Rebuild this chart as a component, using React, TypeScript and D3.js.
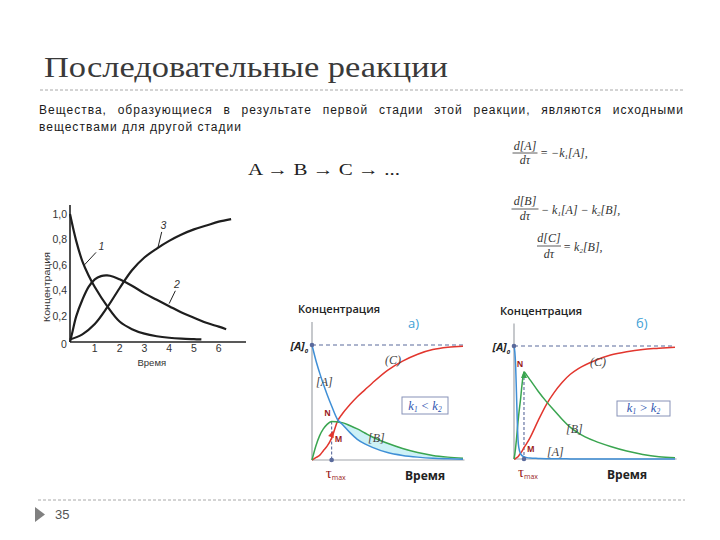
import React, { useLayoutEffect, useRef } from 'react';
import * as d3 from 'd3';

// ---------- Left chart (classic textbook figure) ----------
const leftXTicks = [1, 2, 3, 4, 5, 6];
const leftYTicks = [0.2, 0.4, 0.6, 0.8, 1.0];
const leftYTickLabels = ['0,2', '0,4', '0,6', '0,8', '1,0'];

const curve1T = [0, 0.25, 0.5, 0.75, 1, 1.5, 2, 2.5, 3, 3.5, 4, 4.5, 5, 5.3];
const curve1V = [1.0, 0.79, 0.63, 0.52, 0.43, 0.28, 0.16, 0.1, 0.065, 0.045, 0.033, 0.026, 0.022, 0.02];

const curve2T = [0, 0.1, 0.25, 0.5, 0.75, 1, 1.25, 1.5, 1.75, 2, 2.5, 3, 3.5, 4, 4.5, 5, 5.5, 6, 6.3];
const curve2V = [0, 0.08, 0.2, 0.33, 0.43, 0.49, 0.515, 0.52, 0.51, 0.49, 0.44, 0.38, 0.33, 0.28, 0.23, 0.19, 0.15, 0.12, 0.1];

const curve3T = [0, 0.5, 1, 1.5, 2, 2.5, 3, 3.5, 4, 4.5, 5, 5.5, 6, 6.5];
const curve3V = [0.02, 0.06, 0.14, 0.27, 0.42, 0.56, 0.66, 0.73, 0.79, 0.84, 0.88, 0.91, 0.94, 0.96];

// ---------- Panel а) k1 < k2 ----------
const aT = [0, 0.25, 0.5, 0.75, 1, 1.3, 1.7, 2, 2.5, 3, 3.5, 4, 5, 6, 7, 8, 9, 10];
const aA = [1, 0.87, 0.76, 0.66, 0.57, 0.47, 0.35, 0.31, 0.24, 0.18, 0.14, 0.11, 0.065, 0.04, 0.025, 0.015, 0.01, 0.006];
const aB = [0, 0.12, 0.21, 0.27, 0.31, 0.335, 0.33, 0.325, 0.3, 0.27, 0.235, 0.2, 0.145, 0.1, 0.065, 0.04, 0.025, 0.015];
const aC = [0, 0.02, 0.04, 0.08, 0.12, 0.19, 0.34, 0.4, 0.48, 0.55, 0.61, 0.67, 0.78, 0.86, 0.92, 0.96, 0.98, 0.99];

// ---------- Panel б) k1 > k2 ----------
const bT = [0, 0.05, 0.1, 0.15, 0.2, 0.25, 0.3, 0.4, 0.5, 0.62, 0.8, 1, 1.5, 2, 2.5, 3, 3.5, 4, 5, 6, 7, 8, 9, 10];
const bA = [1, 0.95, 0.83, 0.6, 0.35, 0.17, 0.1, 0.05, 0.03, 0.02, 0.012, 0.008, 0.005, 0.003, 0.002, 0.002, 0.001, 0.001, 0, 0, 0, 0, 0, 0];
const bB = [0, 0.04, 0.1, 0.17, 0.25, 0.33, 0.4, 0.52, 0.66, 0.77, 0.74, 0.7, 0.6, 0.51, 0.43, 0.35, 0.28, 0.23, 0.16, 0.11, 0.07, 0.04, 0.02, 0.01];
const bC = [0, 0, 0.005, 0.01, 0.015, 0.02, 0.03, 0.05, 0.07, 0.1, 0.14, 0.19, 0.34, 0.48, 0.59, 0.68, 0.75, 0.8, 0.87, 0.92, 0.95, 0.97, 0.98, 0.99];

const bodyLine1 = 'Вещества, образующиеся в результате первой стадии этой реакции, являются исходными';
const bodyLine2 = 'веществами для другой стадии';

const BLUE = '#3f8fd6';
const GREEN = '#3aa550';
const RED = '#e2362e';
const DARKRED = '#9a1b1b';
const DASH = '#5a6a9c';
const AXIS = '#a0a4aa';

type Pt = [number, number];
const zip = (t: number[], v: number[]): Pt[] => t.map((d, i) => [d, v[i]]);

function LeftChart() {
  const x = d3.scaleLinear().domain([0, 7.1]).range([70, 246]);
  const y = d3.scaleLinear().domain([0, 1]).range([342, 214]);
  const line = d3
    .line<Pt>()
    .x((d) => x(d[0]))
    .y((d) => y(d[1]))
    .curve(d3.curveCatmullRom.alpha(0.5));
  const font = "'Liberation Sans Narrow', 'Liberation Sans', Arial, sans-serif";
  return (
    <g fontFamily={font} fill="#333">
      <line x1={x(0)} y1={y(0)} x2={x(0)} y2={y(1.07)} stroke="#222" strokeWidth={1.6} />
      <line x1={x(0)} y1={y(0)} x2={x(7.1)} y2={y(0)} stroke="#222" strokeWidth={1.6} />
      {leftXTicks.map((t) => (
        <text key={t} x={x(t)} y={y(0) + 10} fontSize={10.5} textAnchor="middle">
          {t}
        </text>
      ))}
      <text x={x(0) - 6} y={y(0) + 6} fontSize={10.5} textAnchor="middle">0</text>
      {leftYTicks.map((v, i) => (
        <text key={v} x={x(0) - 3} y={y(v)} dy="0.35em" fontSize={10.5} textAnchor="end">
          {leftYTickLabels[i]}
        </text>
      ))}
      <text
        transform={`translate(50,${y(0.43)}) rotate(-90)`}
        fontSize={9.5}
        textAnchor="middle"
        textLength={70}
        lengthAdjust="spacingAndGlyphs"
      >
        Концентрация
      </text>
      <text x={x(3.3)} y={y(0) + 24} fontSize={9.5} textAnchor="middle">Время</text>
      <path d={line(zip(curve1T, curve1V)) || ''} fill="none" stroke="#1e1e1e" strokeWidth={2.2} />
      <path d={line(zip(curve2T, curve2V)) || ''} fill="none" stroke="#1e1e1e" strokeWidth={2.2} />
      <path d={line(zip(curve3T, curve3V)) || ''} fill="none" stroke="#1e1e1e" strokeWidth={2.2} />
      <line x1={x(0.57)} y1={y(0.6)} x2={x(1.05)} y2={y(0.7)} stroke="#222" strokeWidth={1} />
      <text x={x(1.15)} y={y(0.72)} fontSize={10.5} fontStyle="italic">1</text>
      <line x1={x(4.0)} y1={y(0.3)} x2={x(4.25)} y2={y(0.4)} stroke="#222" strokeWidth={1} />
      <text x={x(4.2)} y={y(0.42)} fontSize={10.5} fontStyle="italic">2</text>
      <line x1={x(3.55)} y1={y(0.74)} x2={x(3.7)} y2={y(0.86)} stroke="#222" strokeWidth={1} />
      <text x={x(3.65)} y={y(0.88)} fontSize={10.5} fontStyle="italic">3</text>
    </g>
  );
}

interface PanelProps {
  T: number[];
  A: number[];
  B: number[];
  C: number[];
  xr: [number, number];
  yr: [number, number];
  letter: string;
  ineq: string;
  fillAB: boolean;
  lbl: { A: Pt; B: Pt; C: Pt; box: [number, number, number, number]; letter: Pt; title: Pt; titleLen: number };
  arrowOn: 'C' | 'B';
}

function Panel(p: PanelProps) {
  const x = d3.scaleLinear().domain([0, 10]).range(p.xr);
  const y = d3.scaleLinear().domain([0, 1]).range(p.yr);
  const line = d3
    .line<Pt>()
    .x((d) => x(d[0]))
    .y((d) => y(d[1]))
    .curve(d3.curveMonotoneX);
  const iMax = d3.maxIndex(p.B);
  const tMax = p.T[iMax];
  const nV = p.B[iMax];
  const mV = p.C[iMax];
  const cross = p.T.findIndex((t, i) => i > 0 && p.B[i] > p.A[i] && t >= tMax);
  const fillIdx = p.T.map((_, i) => i).filter((i) => i >= Math.max(cross - 1, 0));
  const area = d3
    .area<number>()
    .x((i) => x(p.T[i]))
    .y0((i) => y(p.A[i]))
    .y1((i) => y(Math.max(p.B[i], p.A[i])))
    .curve(d3.curveMonotoneX);
  const sans = "'Open Sans', 'Noto Sans', Arial, sans-serif";
  const serif = "'Liberation Serif', 'Times New Roman', serif";
  const [bx, by, bw, bh] = p.lbl.box;
  const arrowPt: Pt = p.arrowOn === 'C' ? [x(tMax), y(mV) - 3] : [x(tMax), y(nV) + 4];
  const arrowColor = p.arrowOn === 'C' ? RED : GREEN;
  const arrowRot = p.arrowOn === 'C' ? 20 : 0;
  return (
    <g>
      <text
        x={p.lbl.title[0]}
        y={p.lbl.title[1]}
        fontFamily={sans}
        fontWeight={600}
        fontSize={11}
        fill="#222"
        textLength={p.lbl.titleLen}
        lengthAdjust="spacingAndGlyphs"
      >
        Концентрация
      </text>
      <text x={p.lbl.letter[0]} y={p.lbl.letter[1]} fontFamily={sans} fontSize={13} fill="#3d9fd6">
        {p.letter}
      </text>
      {p.fillAB && <path d={area(fillIdx) || ''} fill="#cdf1f6" />}
      <line x1={x(0)} y1={y(0)} x2={x(0)} y2={y(1.2)} stroke={AXIS} strokeWidth={1.2} />
      <line x1={x(0)} y1={y(0)} x2={x(10.1)} y2={y(0)} stroke={AXIS} strokeWidth={1.2} />
      <line x1={x(0)} y1={y(1)} x2={x(10)} y2={y(1)} stroke={DASH} strokeWidth={1.1} strokeDasharray="4 3" />
      <line x1={x(tMax)} y1={y(nV)} x2={x(tMax)} y2={y(0)} stroke={DASH} strokeWidth={1.1} strokeDasharray="3 2" />
      <path d={line(zip(p.T, p.C)) || ''} fill="none" stroke={RED} strokeWidth={1.5} />
      <path d={line(zip(p.T, p.B)) || ''} fill="none" stroke={GREEN} strokeWidth={1.5} />
      <path d={line(zip(p.T, p.A)) || ''} fill="none" stroke={BLUE} strokeWidth={1.5} />
      <path
        d="M0,-5 L3,2 L-3,2 Z"
        transform={`translate(${arrowPt[0]},${arrowPt[1]}) rotate(${arrowRot})`}
        fill={arrowColor}
      />
      <circle cx={x(0)} cy={y(1)} r={2.3} fill={DASH} />
      <circle cx={x(tMax)} cy={y(0)} r={2.3} fill={DASH} />
      <text x={x(0) - 4} y={y(1) + 5} textAnchor="end" fontFamily={sans} fontWeight={700} fontStyle="italic" fontSize={11} fill="#222">
        [A]<tspan fontSize={6} dy={3}>0</tspan>
      </text>
      <text x={x(tMax) - 4} y={y(nV) - 5} textAnchor="middle" fontFamily={sans} fontWeight={700} fontSize={8} fill={DARKRED}>N</text>
      <text x={x(tMax) + 3} y={y(mV) + 4} fontFamily={sans} fontWeight={700} fontSize={8} fill={DARKRED}>M</text>
      <text x={x(tMax) - 6} y={y(0) + 18} fontFamily={serif} fontSize={15} fill={DARKRED}>
        τ<tspan fontSize={7} fontFamily={sans} dy={2}>max</tspan>
      </text>
      <text x={p.xr[0] + 93} y={y(0) + 20} fontFamily={sans} fontWeight={700} fontSize={12} fill="#222">Время</text>
      <text x={p.lbl.A[0]} y={p.lbl.A[1]} fontFamily={serif} fontStyle="italic" fontSize={12} fill="#444">[A]</text>
      <text x={p.lbl.B[0]} y={p.lbl.B[1]} fontFamily={serif} fontStyle="italic" fontSize={12} fill="#444">[B]</text>
      <text x={p.lbl.C[0]} y={p.lbl.C[1]} fontFamily={serif} fontStyle="italic" fontSize={12} fill="#444">(C)</text>
      <rect x={bx} y={by} width={bw} height={bh} fill="#fff" stroke="#8792b8" strokeWidth={1} />
      <text x={bx + bw / 2} y={by + bh - 4} textAnchor="middle" fontFamily={serif} fontStyle="italic" fontSize={12.5} fill="#2f55b0">
        k<tspan fontSize={7.5} dy={2}>1</tspan>
        <tspan dy={-2}> {p.ineq} k</tspan>
        <tspan fontSize={7.5} dy={2}>2</tspan>
      </text>
    </g>
  );
}

function Frac({ cx, num, numY, lineY, w, denY }: { cx: number; num: string; numY: number; lineY: number; w: number; denY: number }) {
  return (
    <g>
      <text x={cx} y={numY} textAnchor="middle">{num}</text>
      <line x1={cx - w / 2} x2={cx + w / 2} y1={lineY} y2={lineY} stroke="#333" strokeWidth={0.8} />
      <text x={cx} y={denY} textAnchor="middle">dτ</text>
    </g>
  );
}

// Paragraph: second line sets the letter spacing (its width is known), first line is justified.
function Paragraph() {
  const r1 = useRef<SVGTextElement>(null);
  const r2 = useRef<SVGTextElement>(null);
  useLayoutEffect(() => {
    const e1 = r1.current;
    const e2 = r2.current;
    if (!e1 || !e2) return;
    e2.setAttribute('letter-spacing', '0');
    const n2 = e2.getComputedTextLength();
    const ls = (203 - n2) / bodyLine2.length;
    e2.setAttribute('letter-spacing', String(ls));
    e1.setAttribute('letter-spacing', String(ls));
    e1.setAttribute('word-spacing', '0');
    const n1 = e1.getComputedTextLength();
    const gaps = bodyLine1.split(' ').length - 1;
    e1.setAttribute('word-spacing', String((645 - n1) / gaps));
  }, []);
  const f = "'Liberation Sans', Arial, sans-serif";
  return (
    <g fontFamily={f} fontSize={12} fill="#1a1a1a">
      <text ref={r1} x={39} y={114}>{bodyLine1}</text>
      <text ref={r2} x={39} y={131}>{bodyLine2}</text>
    </g>
  );
}

export default function App() {
  const serif = "'Liberation Serif', 'Times New Roman', serif";
  return (
    <svg
      width={720}
      height={540}
      viewBox="0 0 720 540"
      style={{ position: 'absolute', left: 0, top: 0, background: '#fff' }}
    >
      <rect x={0} y={0} width={720} height={540} fill="#fff" />
      <text x={44} y={77} fontFamily={serif} fontSize={30} fill="#3a3a3a" textLength={404} lengthAdjust="spacingAndGlyphs">
        Последовательные реакции
      </text>
      <line x1={40} x2={685} y1={90} y2={90} stroke="#a8a8a8" strokeWidth={1} strokeDasharray="3 2" />
      <Paragraph />
      <text x={248} y={175} fontFamily={serif} fontSize={16} fill="#222" textLength={152} lengthAdjust="spacingAndGlyphs">
        A → B  →  C → ...
      </text>
      <g fontFamily={serif} fontStyle="italic" fontSize={12} fill="#333">
        <Frac cx={525} num="d[A]" numY={150} lineY={153} w={25} denY={164} />
        <text x={540} y={157}>
          = −k<tspan fontSize={7} dy={2}>1</tspan>
          <tspan dy={-2}>[A],</tspan>
        </text>
        <Frac cx={525} num="d[B]" numY={205} lineY={209} w={27} denY={220} />
        <text x={541} y={214}>
          − k<tspan fontSize={7} dy={2}>1</tspan>
          <tspan dy={-2}>[A] − k</tspan>
          <tspan fontSize={7} dy={2}>2</tspan>
          <tspan dy={-2}>[B],</tspan>
        </text>
        <Frac cx={549} num="d[C]" numY={242} lineY={246} w={24} denY={258} />
        <text x={563} y={251}>
          = k<tspan fontSize={7} dy={2}>2</tspan>
          <tspan dy={-2}>[B],</tspan>
        </text>
      </g>

      <LeftChart />

      <Panel
        T={aT}
        A={aA}
        B={aB}
        C={aC}
        xr={[312, 463]}
        yr={[460, 345]}
        letter="а)"
        ineq="<"
        fillAB={true}
        arrowOn="C"
        lbl={{ A: [316, 386], B: [368, 442], C: [385, 364], box: [402, 397, 46, 17], letter: [408, 328], title: [298, 313], titleLen: 82 }}
      />
      <Panel
        T={bT}
        A={bA}
        B={bB}
        C={bC}
        xr={[514, 675]}
        yr={[459, 346]}
        letter="б)"
        ineq=">"
        fillAB={false}
        arrowOn="B"
        lbl={{ A: [547, 456], B: [566, 433], C: [590, 366], box: [617, 401, 53, 15], letter: [636, 328], title: [500, 315], titleLen: 82 }}
      />

      <line x1={38} x2={685} y1={500} y2={500} stroke="#a8a8a8" strokeWidth={1} strokeDasharray="3 2" />
      <polygon points="35,507 45,514.5 35,522" fill="#808080" />
      <text x={55} y={519} fontFamily="'Liberation Sans Narrow', 'Liberation Sans', Arial, sans-serif" fontSize={13} fill="#555">
        35
      </text>
    </svg>
  );
}
